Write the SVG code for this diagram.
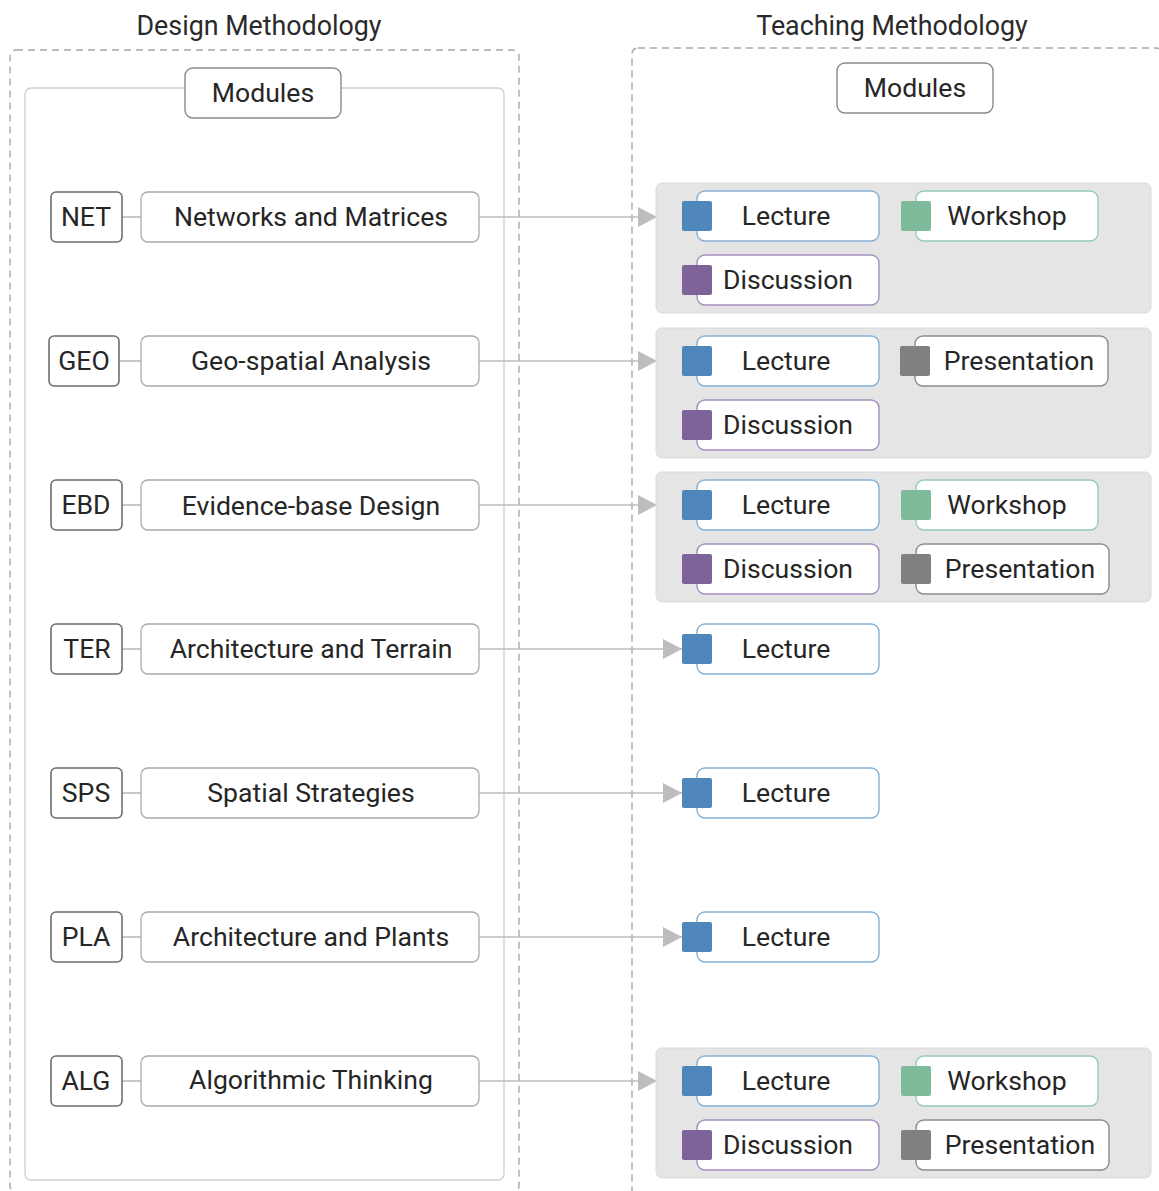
<svg xmlns="http://www.w3.org/2000/svg" width="1159" height="1191" viewBox="0 0 1159 1191">
  <style>
    text { font-family: Roboto, "Liberation Sans", sans-serif; font-size: 26.6px; fill: #262626; text-anchor: middle; }
    .title { font-size: 26.8px; fill: #2a2a2a; }
    .frame { fill: none; stroke: #a8a8a8; stroke-width: 1.4; stroke-dasharray: 7 5; }
    .inner { fill: none; stroke: #cfcfcf; stroke-width: 1.3; }
    .hdr { fill: #fff; stroke: #8a8a8a; stroke-width: 1.4; }
    .code { fill: #fff; stroke: #6e6e6e; stroke-width: 1.6; }
    .name { fill: #fff; stroke: #aaaaaa; stroke-width: 1.3; }
    .tie { stroke: #b4b4b4; stroke-width: 1.5; }
    .link { stroke: #bdbdbd; stroke-width: 1.5; fill: none; }
    .grp { fill: #e5e5e5; stroke: #dadada; stroke-width: 1; }
    .box { fill: #fff; stroke-width: 1.4; }
    .lec { stroke: #86b0d6; }
    .wks { stroke: #93cdb3; }
    .dis { stroke: #a48fbd; }
    .pre { stroke: #8c8c8c; }
    .sq-lec { fill: #4f87bd; }
    .sq-wks { fill: #7dbb9b; }
    .sq-dis { fill: #7e6399; }
    .sq-pre { fill: #808080; }
  </style>
  <defs>
    <marker id="arrow" markerWidth="20" markerHeight="22" refX="19" refY="11" orient="auto" markerUnits="userSpaceOnUse">
      <path d="M0,1 L19,11 L0,21 Z" fill="#bdbdbd"/>
    </marker>
  </defs>

  <rect width="1159" height="1191" fill="#ffffff"/>

  <!-- Section frames -->
  <g id="design-frame">
    <text class="title" x="259" y="35">Design Methodology</text>
    <rect class="frame" x="10" y="50" width="509" height="1142" rx="6"/>
    <rect class="inner" x="25" y="88" width="479" height="1092" rx="6"/>
  </g>
  <g id="teaching-frame">
    <text class="title" x="892" y="35">Teaching Methodology</text>
    <rect class="frame" x="632" y="48" width="530" height="1160" rx="6"/>
  </g>

  <!-- Connectors -->
  <g id="connectors">
    <line class="tie" x1="122" y1="217" x2="141" y2="217"/>
    <line class="tie" x1="119" y1="361" x2="141" y2="361"/>
    <line class="tie" x1="122" y1="505" x2="141" y2="505"/>
    <line class="tie" x1="122" y1="649" x2="141" y2="649"/>
    <line class="tie" x1="122" y1="793" x2="141" y2="793"/>
    <line class="tie" x1="122" y1="937" x2="141" y2="937"/>
    <line class="tie" x1="122" y1="1081" x2="141" y2="1081"/>
    <line class="link" x1="479" y1="217" x2="657" y2="217" marker-end="url(#arrow)"/>
    <line class="link" x1="479" y1="361" x2="657" y2="361" marker-end="url(#arrow)"/>
    <line class="link" x1="479" y1="505" x2="657" y2="505" marker-end="url(#arrow)"/>
    <line class="link" x1="479" y1="649" x2="682" y2="649" marker-end="url(#arrow)"/>
    <line class="link" x1="479" y1="793" x2="682" y2="793" marker-end="url(#arrow)"/>
    <line class="link" x1="479" y1="937" x2="682" y2="937" marker-end="url(#arrow)"/>
    <line class="link" x1="479" y1="1081" x2="657" y2="1081" marker-end="url(#arrow)"/>
  </g>

  <!-- Header nodes -->
  <g id="modules-design">
    <rect class="hdr" x="185" y="68" width="156" height="50" rx="8"/>
    <text x="263" y="102">Modules</text>
  </g>
  <g id="modules-teaching">
    <rect class="hdr" x="837" y="63" width="156" height="50" rx="8"/>
    <text x="915" y="97">Modules</text>
  </g>

  <!-- Design modules -->
  <g id="net">
    <rect class="code" x="51" y="192" width="71" height="50" rx="5"/>
    <text x="86" y="226">NET</text>
    <rect class="name" x="141" y="192" width="338" height="50" rx="7"/>
    <text x="311" y="226">Networks and Matrices</text>
  </g>
  <g id="geo">
    <rect class="code" x="49" y="336" width="70" height="50" rx="5"/>
    <text x="84" y="370">GEO</text>
    <rect class="name" x="141" y="336" width="338" height="50" rx="7"/>
    <text x="311" y="370">Geo-spatial Analysis</text>
  </g>
  <g id="ebd">
    <rect class="code" x="51" y="480" width="71" height="50" rx="5"/>
    <text x="86" y="514">EBD</text>
    <rect class="name" x="141" y="480" width="338" height="50" rx="7"/>
    <text x="311" y="515">Evidence-base Design</text>
  </g>
  <g id="ter">
    <rect class="code" x="51" y="624" width="71" height="50" rx="5"/>
    <text x="87" y="658">TER</text>
    <rect class="name" x="141" y="624" width="338" height="50" rx="7"/>
    <text x="311" y="658">Architecture and Terrain</text>
  </g>
  <g id="sps">
    <rect class="code" x="51" y="768" width="71" height="50" rx="5"/>
    <text x="86" y="802">SPS</text>
    <rect class="name" x="141" y="768" width="338" height="50" rx="7"/>
    <text x="311" y="802">Spatial Strategies</text>
  </g>
  <g id="pla">
    <rect class="code" x="51" y="912" width="71" height="50" rx="5"/>
    <text x="86" y="946">PLA</text>
    <rect class="name" x="141" y="912" width="338" height="50" rx="7"/>
    <text x="311" y="946">Architecture and Plants</text>
  </g>
  <g id="alg">
    <rect class="code" x="51" y="1056" width="71" height="50" rx="5"/>
    <text x="86" y="1090">ALG</text>
    <rect class="name" x="141" y="1056" width="338" height="50" rx="7"/>
    <text x="311" y="1089">Algorithmic Thinking</text>
  </g>

  <!-- Teaching methods per module -->
  <g id="net-methods">
    <rect class="grp" x="656" y="183" width="495" height="130" rx="6"/>
    <rect class="box lec" x="697" y="191" width="182" height="50" rx="8"/>
    <rect class="sq-lec" x="682" y="201" width="30" height="30" rx="2"/>
    <text x="786" y="225">Lecture</text>
    <rect class="box wks" x="916" y="191" width="182" height="50" rx="8"/>
    <rect class="sq-wks" x="901" y="201" width="30" height="30" rx="2"/>
    <text x="1007" y="225">Workshop</text>
    <rect class="box dis" x="697" y="255" width="182" height="50" rx="8"/>
    <rect class="sq-dis" x="682" y="265" width="30" height="30" rx="2"/>
    <text x="788" y="289">Discussion</text>
  </g>
  <g id="geo-methods">
    <rect class="grp" x="656" y="328" width="495" height="130" rx="6"/>
    <rect class="box lec" x="697" y="336" width="182" height="50" rx="8"/>
    <rect class="sq-lec" x="682" y="346" width="30" height="30" rx="2"/>
    <text x="786" y="370">Lecture</text>
    <rect class="box pre" x="915" y="336" width="193" height="50" rx="8"/>
    <rect class="sq-pre" x="900" y="346" width="30" height="30" rx="2"/>
    <text x="1019" y="370">Presentation</text>
    <rect class="box dis" x="697" y="400" width="182" height="50" rx="8"/>
    <rect class="sq-dis" x="682" y="410" width="30" height="30" rx="2"/>
    <text x="788" y="434">Discussion</text>
  </g>
  <g id="ebd-methods">
    <rect class="grp" x="656" y="472" width="495" height="130" rx="6"/>
    <rect class="box lec" x="697" y="480" width="182" height="50" rx="8"/>
    <rect class="sq-lec" x="682" y="490" width="30" height="30" rx="2"/>
    <text x="786" y="514">Lecture</text>
    <rect class="box wks" x="916" y="480" width="182" height="50" rx="8"/>
    <rect class="sq-wks" x="901" y="490" width="30" height="30" rx="2"/>
    <text x="1007" y="514">Workshop</text>
    <rect class="box dis" x="697" y="544" width="182" height="50" rx="8"/>
    <rect class="sq-dis" x="682" y="554" width="30" height="30" rx="2"/>
    <text x="788" y="578">Discussion</text>
    <rect class="box pre" x="916" y="544" width="193" height="50" rx="8"/>
    <rect class="sq-pre" x="901" y="554" width="30" height="30" rx="2"/>
    <text x="1020" y="578">Presentation</text>
  </g>
  <g id="ter-methods">
    <rect class="box lec" x="697" y="624" width="182" height="50" rx="8"/>
    <rect class="sq-lec" x="682" y="634" width="30" height="30" rx="2"/>
    <text x="786" y="658">Lecture</text>
  </g>
  <g id="sps-methods">
    <rect class="box lec" x="697" y="768" width="182" height="50" rx="8"/>
    <rect class="sq-lec" x="682" y="778" width="30" height="30" rx="2"/>
    <text x="786" y="802">Lecture</text>
  </g>
  <g id="pla-methods">
    <rect class="box lec" x="697" y="912" width="182" height="50" rx="8"/>
    <rect class="sq-lec" x="682" y="922" width="30" height="30" rx="2"/>
    <text x="786" y="946">Lecture</text>
  </g>
  <g id="alg-methods">
    <rect class="grp" x="656" y="1048" width="495" height="130" rx="6"/>
    <rect class="box lec" x="697" y="1056" width="182" height="50" rx="8"/>
    <rect class="sq-lec" x="682" y="1066" width="30" height="30" rx="2"/>
    <text x="786" y="1090">Lecture</text>
    <rect class="box wks" x="916" y="1056" width="182" height="50" rx="8"/>
    <rect class="sq-wks" x="901" y="1066" width="30" height="30" rx="2"/>
    <text x="1007" y="1090">Workshop</text>
    <rect class="box dis" x="697" y="1120" width="182" height="50" rx="8"/>
    <rect class="sq-dis" x="682" y="1130" width="30" height="30" rx="2"/>
    <text x="788" y="1154">Discussion</text>
    <rect class="box pre" x="916" y="1120" width="193" height="50" rx="8"/>
    <rect class="sq-pre" x="901" y="1130" width="30" height="30" rx="2"/>
    <text x="1020" y="1154">Presentation</text>
  </g>
</svg>
